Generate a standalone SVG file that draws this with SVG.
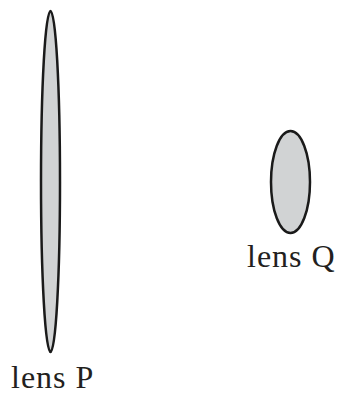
<svg xmlns="http://www.w3.org/2000/svg" width="338" height="397" viewBox="0 0 338 397">
<style>
.lens{fill:#d1d3d4;stroke:#1a1a1a;stroke-width:2.5}
.lbl{font-family:"Liberation Serif","Times New Roman",serif;font-size:32px;letter-spacing:1px;fill:#231f20}
</style>
<rect width="338" height="397" fill="#ffffff"/>
<g id="lensP">
<ellipse class="lens" cx="50.5" cy="181.5" rx="9.5" ry="170.5"/>
<text class="lbl" x="11" y="388">lens P</text>
</g>
<g id="lensQ">
<ellipse class="lens" cx="290.5" cy="182" rx="19.5" ry="51"/>
<text class="lbl" x="247" y="267">lens Q</text>
</g>
<g id="connectors"></g>
</svg>
